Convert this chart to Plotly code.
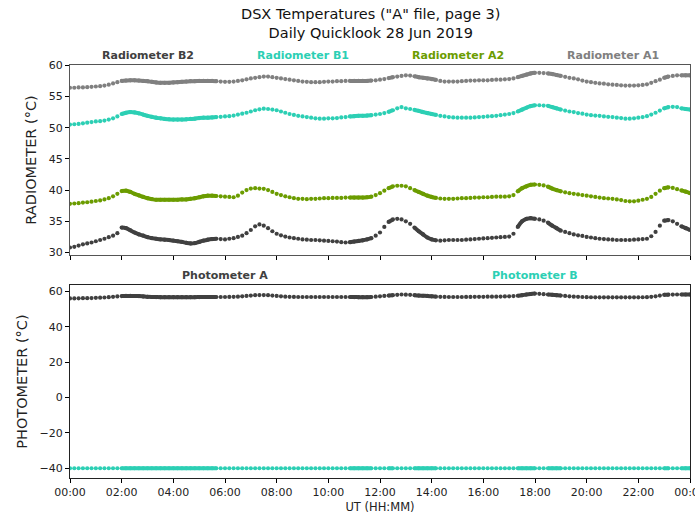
import plotly.graph_objects as go

# ---- time axis: one reading every 10 minutes, 00:00 to 24:00 (hours) ----
HOURS = [k / 6 for k in range(145)]
TICK_VALS = [0, 2, 4, 6, 8, 10, 12, 14, 16, 18, 20, 22, 24]
TICK_TEXT = ["00:00", "02:00", "04:00", "06:00", "08:00", "10:00", "12:00",
             "14:00", "16:00", "18:00", "20:00", "22:00", "00:00"]

# periods where the instrument was sampled at a high rate (hours)
DENSE_PERIODS = [(2.0, 5.8), (10.8, 11.8), (12.2, 12.6), (13.3, 14.3),
                 (17.2, 18.1), (18.5, 19.1), (22.9, 23.3), (23.6, 24.0)]

# ---- radiometer temperatures (deg C), six readings per hour ----
RAD_A1 = [
    56.4, 56.4, 56.45, 56.45, 56.5, 56.55,
    56.6, 56.65, 56.75, 56.9, 57.1, 57.3,
    57.5, 57.55, 57.6, 57.6, 57.55, 57.5,
    57.45, 57.35, 57.25, 57.2, 57.2, 57.2,
    57.25, 57.3, 57.35, 57.4, 57.45, 57.45,
    57.5, 57.5, 57.5, 57.5, 57.45, 57.4,
    57.35, 57.35, 57.4, 57.5, 57.6, 57.75,
    57.9, 58.0, 58.1, 58.2, 58.2, 58.1,
    58.0, 57.9, 57.8, 57.7, 57.6, 57.5,
    57.4, 57.35, 57.3, 57.3, 57.3, 57.35,
    57.4, 57.4, 57.45, 57.45, 57.5, 57.5,
    57.5, 57.5, 57.5, 57.5, 57.55, 57.6,
    57.7, 57.8, 57.95, 58.1, 58.2, 58.3,
    58.4, 58.35, 58.25, 58.1, 58.0, 57.9,
    57.8, 57.65, 57.5, 57.4, 57.4, 57.4,
    57.4, 57.45, 57.5, 57.55, 57.55, 57.6,
    57.6, 57.6, 57.65, 57.7, 57.7, 57.75,
    57.8, 57.9, 58.1, 58.3, 58.5, 58.7,
    58.8, 58.8, 58.75, 58.7, 58.6, 58.45,
    58.3, 58.15, 58.0, 57.9, 57.75, 57.55,
    57.4, 57.3, 57.2, 57.1, 57.05, 56.95,
    56.9, 56.85, 56.8, 56.75, 56.75, 56.75,
    56.8, 56.85, 56.95, 57.2, 57.45, 57.7,
    58.0, 58.2, 58.3, 58.4, 58.4, 58.4,
    58.4,
]

RAD_B1 = [
    50.5, 50.55, 50.6, 50.7, 50.8, 50.9,
    51.0, 51.05, 51.15, 51.3, 51.5, 51.8,
    52.2, 52.4, 52.5, 52.45, 52.3, 52.1,
    51.9, 51.75, 51.6, 51.5, 51.4, 51.35,
    51.3, 51.3, 51.3, 51.35, 51.4, 51.45,
    51.55, 51.6, 51.6, 51.65, 51.7, 51.75,
    51.8, 51.85, 51.95, 52.1, 52.25, 52.4,
    52.6, 52.8, 52.95, 53.05, 53.0, 52.9,
    52.8, 52.6, 52.4, 52.2, 52.05, 51.9,
    51.8, 51.7, 51.6, 51.5, 51.45, 51.45,
    51.5, 51.5, 51.55, 51.65, 51.7, 51.8,
    51.85, 51.9, 51.9, 51.95, 52.0, 52.1,
    52.2, 52.35, 52.55, 52.8, 53.1, 53.3,
    53.1, 53.0, 52.85, 52.7, 52.5, 52.35,
    52.2, 52.05, 51.9, 51.8, 51.7, 51.65,
    51.6, 51.6, 51.6, 51.6, 51.65, 51.7,
    51.75, 51.8, 51.85, 51.9, 52.0, 52.1,
    52.2, 52.35, 52.6, 52.9, 53.2, 53.45,
    53.6, 53.6, 53.55, 53.5, 53.3, 53.1,
    52.9, 52.75, 52.6, 52.5, 52.35, 52.25,
    52.1, 52.0, 51.95, 51.9, 51.8, 51.75,
    51.7, 51.6, 51.55, 51.45, 51.45, 51.5,
    51.6, 51.7, 51.85, 52.1, 52.4, 52.75,
    53.1, 53.3, 53.35, 53.3, 53.1, 53.0,
    52.9,
]

RAD_A2 = [
    37.8, 37.85, 37.9, 38.0, 38.05, 38.15,
    38.25, 38.35, 38.5, 38.7, 39.0, 39.4,
    39.85, 39.9, 39.7, 39.4, 39.15, 38.9,
    38.7, 38.55, 38.45, 38.45, 38.45, 38.45,
    38.45, 38.45, 38.5, 38.5, 38.6, 38.7,
    38.85, 39.0, 39.1, 39.1, 39.05, 39.0,
    38.95, 38.9, 38.85, 39.1, 39.6, 40.0,
    40.25, 40.3, 40.25, 40.2, 40.0, 39.7,
    39.4, 39.2, 39.0, 38.85, 38.7, 38.6,
    38.6, 38.55, 38.6, 38.6, 38.65, 38.7,
    38.7, 38.75, 38.75, 38.75, 38.8, 38.8,
    38.8, 38.8, 38.8, 38.85, 38.95, 39.2,
    39.5, 39.9, 40.3, 40.6, 40.7, 40.7,
    40.6, 40.3, 40.0, 39.7, 39.4, 39.1,
    38.9, 38.75, 38.65, 38.6, 38.6, 38.6,
    38.65, 38.7, 38.7, 38.75, 38.8, 38.8,
    38.85, 38.85, 38.9, 38.95, 38.95, 38.95,
    39.0, 39.2, 39.8, 40.3, 40.6, 40.85,
    40.9, 40.85, 40.75, 40.55, 40.25, 40.0,
    39.8, 39.65, 39.5, 39.4, 39.3, 39.2,
    39.1, 39.0, 38.9, 38.8, 38.7, 38.65,
    38.6, 38.5, 38.4, 38.25, 38.2, 38.2,
    38.3, 38.45, 38.6, 38.9, 39.4, 39.9,
    40.3, 40.45, 40.35, 40.15, 39.95, 39.75,
    39.5,
]

RAD_B2 = [
    30.8, 30.9, 31.1, 31.3, 31.45, 31.6,
    31.8, 32.0, 32.2, 32.45, 32.7, 33.1,
    34.0, 33.9, 33.55, 33.2, 32.9, 32.7,
    32.45, 32.3, 32.2, 32.1, 32.05, 32.0,
    31.9, 31.8, 31.7, 31.55, 31.45, 31.5,
    31.7, 31.9, 32.05, 32.15, 32.2, 32.15,
    32.1, 32.2, 32.3, 32.5, 32.7, 33.1,
    33.6, 34.2, 34.5, 34.3, 33.9, 33.4,
    33.0, 32.75, 32.55, 32.4, 32.3, 32.2,
    32.1, 32.05, 32.0, 32.0, 31.95, 31.9,
    31.85, 31.8, 31.75, 31.65, 31.6, 31.65,
    31.75, 31.85, 31.95, 32.1, 32.3, 32.7,
    33.2, 34.1, 34.9, 35.3, 35.4, 35.3,
    35.0, 34.6, 34.0, 33.4, 32.9, 32.4,
    32.1, 31.95, 31.9, 31.95, 32.0, 32.0,
    32.0, 32.0, 32.05, 32.1, 32.15, 32.2,
    32.25, 32.3, 32.35, 32.4, 32.45, 32.5,
    32.55, 33.0, 34.1, 35.0, 35.4, 35.5,
    35.4, 35.3, 35.1, 34.8, 34.3, 33.9,
    33.5, 33.3, 33.1, 32.9, 32.75, 32.65,
    32.5, 32.4, 32.3, 32.2, 32.15, 32.1,
    32.05, 32.0, 32.0, 32.0, 32.0, 32.05,
    32.1, 32.15, 32.2, 32.6, 33.3, 34.3,
    35.1, 35.2, 35.0, 34.6, 34.2, 33.9,
    33.6,
]

# ---- photometer temperatures (deg C) ----
PHOT_A = [
    56.0, 56.0, 56.05, 56.1, 56.15, 56.2,
    56.3, 56.4, 56.5, 56.7, 56.9, 57.1,
    57.3, 57.4, 57.4, 57.35, 57.3, 57.1,
    56.9, 56.8, 56.75, 56.7, 56.7, 56.7,
    56.7, 56.7, 56.7, 56.7, 56.7, 56.7,
    56.75, 56.8, 56.8, 56.8, 56.8, 56.8,
    56.8, 56.85, 56.9, 57.0, 57.2, 57.4,
    57.6, 57.8, 57.9, 57.9, 57.8, 57.6,
    57.4, 57.2, 57.0, 56.9, 56.85, 56.8,
    56.8, 56.8, 56.8, 56.8, 56.8, 56.8,
    56.8, 56.8, 56.8, 56.8, 56.8, 56.8,
    56.75, 56.7, 56.7, 56.7, 56.8, 57.0,
    57.2, 57.4, 57.6, 57.8, 58.0, 58.2,
    58.1, 58.0, 57.8, 57.6, 57.5, 57.4,
    57.2, 57.0, 56.9, 56.85, 56.8, 56.8,
    56.8, 56.8, 56.85, 56.85, 56.9, 56.9,
    56.9, 56.95, 57.0, 57.0, 57.05, 57.1,
    57.2, 57.3, 57.5, 57.8, 58.2, 58.5,
    58.7, 58.6, 58.4, 58.2, 58.0, 57.8,
    57.6, 57.4, 57.2, 57.0, 56.9, 56.8,
    56.7, 56.65, 56.6, 56.6, 56.6, 56.6,
    56.6, 56.6, 56.6, 56.6, 56.6, 56.6,
    56.6, 56.65, 56.7, 56.9, 57.2, 57.6,
    58.0, 58.1, 58.15, 58.2, 58.2, 58.2,
    58.2,
]

PHOT_B = [
    -40.0, -40.0, -40.0, -40.0, -40.0, -40.0,
    -40.0, -40.0, -40.0, -40.0, -40.0, -40.0,
    -40.0, -40.0, -40.0, -40.0, -40.0, -40.0,
    -40.0, -40.0, -40.0, -40.0, -40.0, -40.0,
    -40.0, -40.0, -40.0, -40.0, -40.0, -40.0,
    -40.0, -40.0, -40.0, -40.0, -40.0, -40.0,
    -40.0, -40.0, -40.0, -40.0, -40.0, -40.0,
    -40.0, -40.0, -40.0, -40.0, -40.0, -40.0,
    -40.0, -40.0, -40.0, -40.0, -40.0, -40.0,
    -40.0, -40.0, -40.0, -40.0, -40.0, -40.0,
    -40.0, -40.0, -40.0, -40.0, -40.0, -40.0,
    -40.0, -40.0, -40.0, -40.0, -40.0, -40.0,
    -40.0, -40.0, -40.0, -40.0, -40.0, -40.0,
    -40.0, -40.0, -40.0, -40.0, -40.0, -40.0,
    -40.0, -40.0, -40.0, -40.0, -40.0, -40.0,
    -40.0, -40.0, -40.0, -40.0, -40.0, -40.0,
    -40.0, -40.0, -40.0, -40.0, -40.0, -40.0,
    -40.0, -40.0, -40.0, -40.0, -40.0, -40.0,
    -40.0, -40.0, -40.0, -40.0, -40.0, -40.0,
    -40.0, -40.0, -40.0, -40.0, -40.0, -40.0,
    -40.0, -40.0, -40.0, -40.0, -40.0, -40.0,
    -40.0, -40.0, -40.0, -40.0, -40.0, -40.0,
    -40.0, -40.0, -40.0, -40.0, -40.0, -40.0,
    -40.0, -40.0, -40.0, -40.0, -40.0, -40.0,
    -40.0,
]

DARK = "#404040"
TURQ = "#2ccfb4"
GREEN = "#6b9c00"
GRAY = "#808080"

RAD_SERIES = [("Radiometer A1", RAD_A1, GRAY), ("Radiometer B1", RAD_B1, TURQ),
              ("Radiometer A2", RAD_A2, GREEN), ("Radiometer B2", RAD_B2, DARK)]
PHOT_SERIES = [("Photometer A", PHOT_A, DARK), ("Photometer B", PHOT_B, TURQ)]

FONT = "DejaVu Sans"
fig = go.Figure()


def add_series(name, values, color, xa, ya):
    # sparse readings as dots
    fig.add_trace(go.Scatter(x=HOURS, y=values, mode="markers", name=name,
                             marker=dict(color=color, size=4.2, line=dict(width=0)),
                             xaxis=xa, yaxis=ya, showlegend=False, hoverinfo="skip"))
    # high-rate periods render as a solid band of points
    for a, b in DENSE_PERIODS:
        xs = [h for h in HOURS if a - 1e-9 <= h <= b + 1e-9]
        ys = [v for h, v in zip(HOURS, values) if a - 1e-9 <= h <= b + 1e-9]
        if len(xs) < 2:
            continue
        fig.add_trace(go.Scatter(x=xs, y=ys, mode="lines",
                                 line=dict(color=color, width=4, shape="spline"),
                                 xaxis=xa, yaxis=ya, showlegend=False, hoverinfo="skip"))


for name, vals, col in RAD_SERIES:
    add_series(name, vals, col, "x", "y")
for name, vals, col in PHOT_SERIES:
    add_series(name, vals, col, "x2", "y2")

TOP_DOM = [0.540, 1.0]
BOT_DOM = [0.0, 0.467]

axis_common = dict(showgrid=False, zeroline=False, ticks="outside", ticklen=4,
                   tickwidth=1, tickcolor="#000000", showline=True, mirror=True,
                   ticklabeloverflow="allow", automargin=False,
                   tickfont=dict(family=FONT, size=11, color="#222222"))

fig.update_layout(
    width=695, height=516,
    margin=dict(l=70, r=5, t=65, b=38),
    paper_bgcolor="white", plot_bgcolor="white",
    font=dict(family=FONT, color="#222222"),
    xaxis=dict(domain=[0, 1], anchor="y", range=[0, 24], tickvals=TICK_VALS,
               showticklabels=False, linecolor="#555555", **axis_common),
    yaxis=dict(domain=TOP_DOM, anchor="x", range=[29.6, 60.05],
               tickvals=[30, 35, 40, 45, 50, 55, 60], linecolor="#555555",
               title=dict(text="RADIOMETER (°C)", font=dict(family=FONT, size=14.5),
                          standoff=8),
               **axis_common),
    xaxis2=dict(domain=[0, 1], anchor="y2", range=[0, 24], matches="x",
                tickvals=TICK_VALS, ticktext=TICK_TEXT, linecolor="#222222",
                title=dict(text="UT (HH:MM)", font=dict(family=FONT, size=11.5),
                           standoff=4),
                **axis_common),
    yaxis2=dict(domain=BOT_DOM, anchor="x2", range=[-45.5, 63.5],
                tickvals=[-40, -20, 0, 20, 40, 60],
                ticktext=["\u221240", "\u221220", "0", "20", "40", "60"],
                linecolor="#222222",
                title=dict(text="PHOTOMETER (°C)", font=dict(family=FONT, size=14.5),
                           standoff=8),
                **axis_common),
)

# chart title
fig.add_annotation(text="DSX Temperatures (\"A\" file, page 3)<br>Daily Quicklook 28 Jun 2019",
                   xref="paper", yref="paper", x=0.484, y=1.0, yshift=22,
                   xanchor="center", yanchor="bottom", showarrow=False,
                   font=dict(family=FONT, size=14.5, color="#111111"))

# panel labels, coloured like their series
for name, pos, col in [("Radiometer B2", 0.125, DARK), ("Radiometer B1", 0.375, TURQ),
                       ("Radiometer A2", 0.625, GREEN), ("Radiometer A1", 0.875, GRAY)]:
    fig.add_annotation(text="<b>" + name + "</b>", xref="paper", yref="paper",
                       x=pos, y=TOP_DOM[1], yshift=1, xanchor="center", yanchor="bottom",
                       showarrow=False, font=dict(family=FONT, size=11, color=col))
for name, pos, col in [("Photometer A", 0.25, DARK), ("Photometer B", 0.75, TURQ)]:
    fig.add_annotation(text="<b>" + name + "</b>", xref="paper", yref="paper",
                       x=pos, y=BOT_DOM[1], yshift=1, xanchor="center", yanchor="bottom",
                       showarrow=False, font=dict(family=FONT, size=11, color=col))

fig.write_html("out.html")
